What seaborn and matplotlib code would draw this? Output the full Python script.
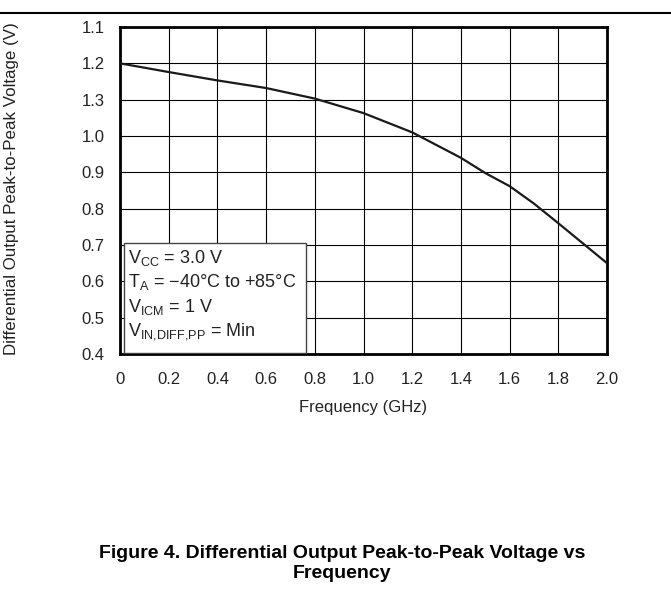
import matplotlib
matplotlib.use("Agg")
import matplotlib.pyplot as plt
import seaborn as sns
import pandas as pd
from matplotlib.patches import Rectangle
from matplotlib.lines import Line2D

# curve
freq_ghz = [0.0, 0.2, 0.4, 0.6, 0.8, 1.0, 1.2, 1.4, 1.5, 1.6, 1.7, 1.8, 1.9, 2.0]
vout_pp = [1.200, 1.176, 1.153, 1.132, 1.103, 1.063, 1.010, 0.940, 0.898,
           0.862, 0.814, 0.760, 0.705, 0.650]

x_ticks = [0.0, 0.2, 0.4, 0.6, 0.8, 1.0, 1.2, 1.4, 1.6, 1.8, 2.0]
x_tick_labels = ["0", "0.2", "0.4", "0.6", "0.8", "1.0", "1.2", "1.4", "1.6", "1.8", "2.0"]
y_ticks = [0.4, 0.5, 0.6, 0.7, 0.8, 0.9, 1.0, 1.1, 1.2, 1.3]
# the original figure labels the top ticks out of order; keep it as printed
y_tick_labels = ["0.4", "0.5", "0.6", "0.7", "0.8", "0.9", "1.0", "1.3", "1.2", "1.1"]

conditions = [
    r"V$_{\mathregular{CC}}$ = 3.0 V",
    r"T$_{\mathregular{A}}$ = −40°C to +85°C",
    r"V$_{\mathregular{ICM}}$ = 1 V",
    r"V$_{\mathregular{IN{,}DIFF{,}PP}}$ = Min",
]

sns.set_style("white")
plt.rcParams["font.family"] = ["Liberation Sans", "DejaVu Sans"]
plt.rcParams["mathtext.fontset"] = "custom"
plt.rcParams["mathtext.rm"] = "Liberation Sans"

W, H = 671, 601
fig = plt.figure(figsize=(W / 100, H / 100), dpi=100)
ax = fig.add_axes([120 / W, 1 - 354 / H, 487 / W, 327 / H])

df = pd.DataFrame({"f": freq_ghz, "v": vout_pp})
sns.lineplot(data=df, x="f", y="v", ax=ax, color="#1a1a1a", lw=1.6, zorder=3)

ax.set_xlim(0, 2.0)
ax.set_ylim(0.4, 1.3)
ax.set_xticks(x_ticks)
ax.set_xticklabels(x_tick_labels)
ax.set_yticks(y_ticks)
ax.set_yticklabels(y_tick_labels)
ax.tick_params(length=0, labelsize=12, colors="#222222")
ax.tick_params(axis="x", pad=13)
ax.tick_params(axis="y", pad=11)
ax.grid(True, color="black", lw=0.8)
for s in ax.spines.values():
    s.set_visible(True)
    s.set_color("black")
    s.set_linewidth(2)

ax.set_xlabel("Frequency (GHz)", fontsize=12, labelpad=9, color="#222222")
ax.set_ylabel("")
fig.text(12 / W, 1 - 188.5 / H, "Differential Output Peak-to-Peak Voltage (V)",
         rotation=90, ha="center", va="center", fontsize=12.2, color="#222222")

# conditions box
ax.add_patch(Rectangle((0.008, 0.003), 0.374, 0.336, transform=ax.transAxes,
                       facecolor="white", edgecolor="#444444", lw=1.0, zorder=4))
for i, line in enumerate(conditions):
    fig.text(128 / W, 1 - (258 + i * 24.5) / H, line, ha="left", va="center",
             fontsize=13, color="#222222", zorder=5)

# rule across the top of the page
fig.add_artist(Line2D([0, 1], [1 - 13 / H, 1 - 13 / H], transform=fig.transFigure,
                      color="black", lw=1.5))

fig.text(342 / W, 1 - 563.5 / H,
         "Figure 4. Differential Output Peak-to-Peak Voltage vs\nFrequency",
         ha="center", va="center", fontsize=14, fontweight="bold", linespacing=1.16,
         color="black")

fig.savefig("out.png", dpi=100)
